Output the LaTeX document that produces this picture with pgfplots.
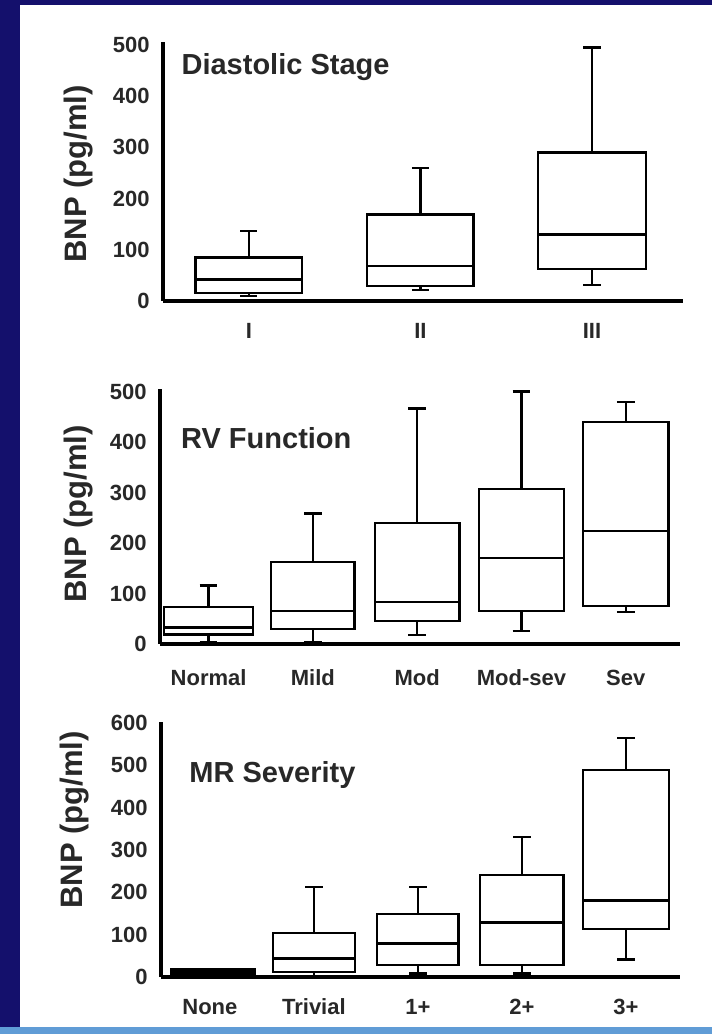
\documentclass[border=0pt]{standalone}
\usepackage{fontspec}
\setmainfont{Liberation Sans}
\usepackage{pgfplots}
\pgfplotsset{compat=1.18}
\usepgfplotslibrary{statistics}
\definecolor{slidebg}{RGB}{20,16,108}
\definecolor{slidestrip}{RGB}{96,156,214}
\definecolor{ink}{RGB}{40,40,40}

\tikzset{ttl/.style={anchor=west, inner sep=0pt, font=\fontsize{14.5}{16}\selectfont\bfseries, text=ink}}
\pgfplotsset{
  bnp/.style={
    scale only axis, anchor=south west, clip=false,
    boxplot/draw direction=y,
    axis lines=left, axis line style={line width=1.7pt,-,black},
    major tick length=0pt,
    /pgf/number format/assume math mode=true,
    tick label style={font=\fontsize{11}{13}\selectfont\bfseries, text=ink},
    yticklabel style={anchor=east, inner sep=0pt, xshift=-6.5pt},
    xticklabel style={anchor=base, inner sep=0pt},
    ylabel={BNP (pg/ml)},
    ylabel style={font=\fontsize{15.5}{17}\selectfont\bfseries, text=ink, anchor=center},
  },
  bx/.style={black, line width=1.15pt, solid, mark=none},
}

\begin{document}
\begin{tikzpicture}
\useasboundingbox (0,0) rectangle (356pt,517pt);
\fill[slidebg] (0,0) rectangle (356pt,517pt);
\fill[white] (10pt,3.5pt) rectangle (356pt,514.5pt);
\fill[slidestrip] (0,0) rectangle (356pt,3.5pt);

% Diastolic stage
\begin{axis}[bnp, at={(81.5pt,366.5pt)}, width=260pt, height=129.3pt,
  xmin=0.5, xmax=3.53, ymin=0, ymax=505,
  xtick={1,2,3}, xticklabels={I,II,III},
  ytick={0,100,...,500},
  xticklabel style={yshift=-19pt},
  ylabel style={at={(axis description cs:0,0.491)}, yshift=42pt},
]
\addplot[bx, boxplot prepared={draw position=1, lower whisker=10, lower quartile=15,
  median=42, upper quartile=85, upper whisker=137, box extend=0.62, whisker extend=0.1}] coordinates {};
\addplot[bx, boxplot prepared={draw position=2, lower whisker=21, lower quartile=29,
  median=69, upper quartile=169, upper whisker=260, box extend=0.62, whisker extend=0.1}] coordinates {};
\addplot[bx, boxplot prepared={draw position=3, lower whisker=31, lower quartile=62,
  median=130, upper quartile=290, upper whisker=495, box extend=0.63, whisker extend=0.1}] coordinates {};
\node[ttl] at (rel axis cs:0.035,0.905) {Diastolic Stage};
\end{axis}

% RV function
\begin{axis}[bnp, at={(80pt,195pt)}, width=260pt, height=127.3pt,
  xmin=0.534, xmax=5.52, ymin=0, ymax=505,
  xtick={1,...,5}, xticklabels={Normal,Mild,Mod,Mod-sev,Sev},
  ytick={0,100,...,500},
  xticklabel style={yshift=-21pt},
  ylabel style={at={(axis description cs:0,0.511)}, yshift=40.5pt},
]
\addplot[bx, boxplot prepared={draw position=1, lower whisker=3, lower quartile=19,
  median=33, upper quartile=73, upper whisker=116, box extend=0.85, whisker extend=0.17}] coordinates {};
\addplot[bx, boxplot prepared={draw position=2, lower whisker=3, lower quartile=30,
  median=65, upper quartile=163, upper whisker=259, box extend=0.8, whisker extend=0.17}] coordinates {};
\addplot[bx, boxplot prepared={draw position=3, lower whisker=18, lower quartile=46,
  median=83, upper quartile=240, upper whisker=467, box extend=0.81, whisker extend=0.17}] coordinates {};
\addplot[bx, boxplot prepared={draw position=4, lower whisker=26, lower quartile=65,
  median=170, upper quartile=307, upper whisker=501, box extend=0.81, whisker extend=0.17}] coordinates {};
\addplot[bx, boxplot prepared={draw position=5, lower whisker=64, lower quartile=75,
  median=224, upper quartile=440, upper whisker=480, box extend=0.82, whisker extend=0.17}] coordinates {};
\node[ttl] at (rel axis cs:0.04,0.809) {RV Function};
\end{axis}

% MR severity
\begin{axis}[bnp, at={(80.5pt,28.5pt)}, width=259.5pt, height=127.4pt,
  xmin=0.53, xmax=5.52, ymin=0, ymax=602,
  xtick={1,...,5}, xticklabels={None,Trivial,1+,2+,3+},
  ytick={0,100,...,600},
  xticklabel style={yshift=-18.5pt},
  ylabel style={at={(axis description cs:0,0.616)}, yshift=43pt},
]
\addplot[bx, fill=black, boxplot prepared={draw position=1.03, lower whisker=0, lower quartile=2,
  median=10, upper quartile=18, upper whisker=19, box extend=0.8, whisker extend=0.17}] coordinates {};
\addplot[bx, boxplot prepared={draw position=2, lower whisker=3, lower quartile=12,
  median=44, upper quartile=104, upper whisker=212, box extend=0.79, whisker extend=0.17}] coordinates {};
\addplot[bx, boxplot prepared={draw position=3, lower whisker=8, lower quartile=29,
  median=79, upper quartile=149, upper whisker=212, box extend=0.78, whisker extend=0.17}] coordinates {};
\addplot[bx, boxplot prepared={draw position=4, lower whisker=8, lower quartile=29,
  median=129, upper quartile=241, upper whisker=331, box extend=0.8, whisker extend=0.17}] coordinates {};
\addplot[bx, boxplot prepared={draw position=5, lower whisker=41, lower quartile=113,
  median=181, upper quartile=489, upper whisker=565, box extend=0.83, whisker extend=0.17}] coordinates {};
\node[ttl] at (rel axis cs:0.054,0.793) {MR Severity};
\end{axis}
\end{tikzpicture}
\end{document}
